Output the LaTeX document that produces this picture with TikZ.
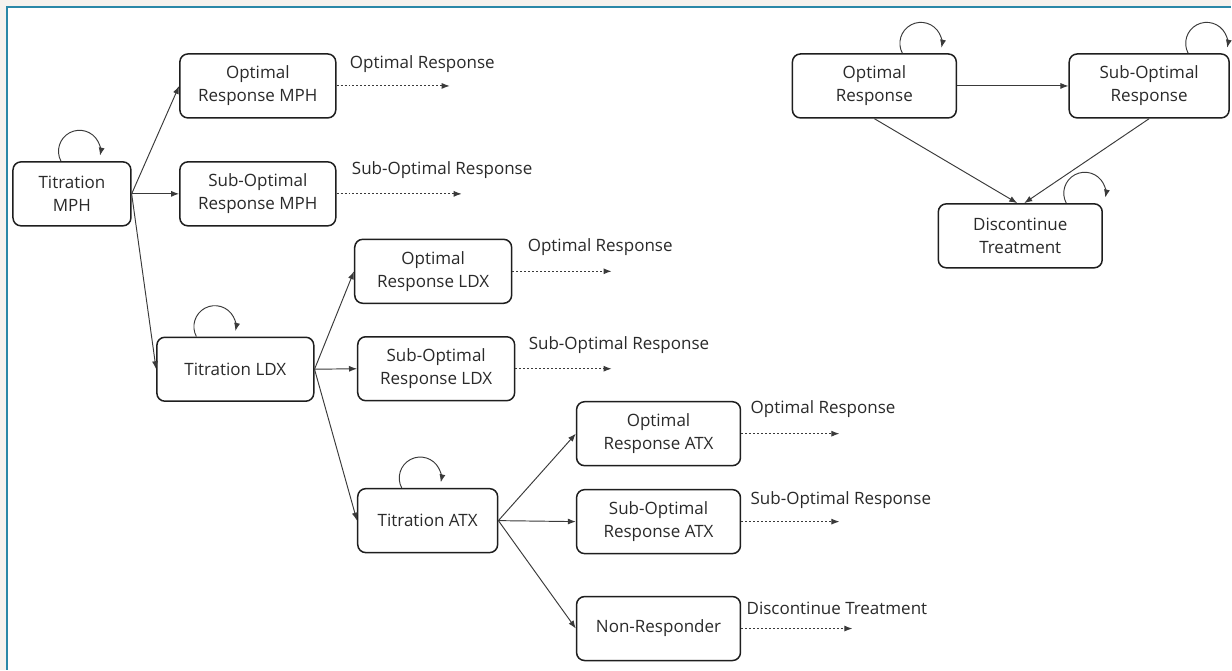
\documentclass[tikz,border=0pt]{standalone}
\usepackage{fontspec}
\setmainfont{Open Sans}
\usetikzlibrary{arrows.meta,calc}
\definecolor{framecol}{HTML}{2A88A8}
\definecolor{margincol}{HTML}{F5F2EE}
\definecolor{ink}{HTML}{1E1E1E}
\definecolor{textcol}{HTML}{2A2A2A}
\definecolor{wire}{HTML}{3A3A3A}

% a self-transition drawn as an arc sitting on top of a state
\newcommand\selfloop[2]{%
  \draw[link] ($(#1.north)+(#2,0)$) arc[start angle=152, end angle=372, radius=21];}

\begin{document}
\begin{tikzpicture}[x=1pt, y=-1pt,
  state/.style={draw=ink, line width=1.5pt, rounded corners=8pt, fill=white,
    align=center, inner sep=0pt, minimum height=64pt, text=textcol,
    font=\fontsize{17}{23}\selectfont},
  link/.style={draw=wire, line width=0.95pt, -{Latex[length=8pt,width=6pt]}},
  outcome/.style={draw=wire, line width=0.95pt, dash pattern=on 2pt off 2pt,
    -{Latex[length=8pt,width=6pt]}},
  outlabel/.style={anchor=west, inner sep=0pt, text=textcol,
    font=\fontsize{17}{20}\selectfont},
]
% page, margin and frame
\fill[margincol] (0,0) rectangle (1232,670);
\fill[white] (6,6) rectangle (1232,670);
\draw[framecol, line width=1.8pt] (7,670) -- (7,7) -- (1232,7);

% treatment tree
\node[state, minimum width=118pt] (tmph) at (72,194) {Titration\\MPH};
\node[state, minimum width=156pt] (omph) at (258,86) {Optimal\\Response MPH};
\node[state, minimum width=156pt] (smph) at (258,194) {Sub-Optimal\\Response MPH};
\node[state, minimum width=157pt] (tldx) at (235.5,369.5) {Titration LDX};
\node[state, minimum width=157pt] (oldx) at (433.5,271.5) {Optimal\\Response LDX};
\node[state, minimum width=157pt] (sldx) at (436.5,369) {Sub-Optimal\\Response LDX};
\node[state, minimum width=140pt] (tatx) at (428,521) {Titration ATX};
\node[state, minimum width=164pt] (oatx) at (659,434) {Optimal\\Response ATX};
\node[state, minimum width=164pt] (satx) at (659,522) {Sub-Optimal\\Response ATX};
\node[state, minimum width=164pt] (natx) at (659,629) {Non-Responder};

% response model
\node[state, minimum width=164pt] (ropt) at (875,86) {Optimal\\Response};
\node[state, minimum width=160pt] (rsub) at (1150,86) {Sub-Optimal\\Response};
\node[state, minimum width=164pt] (rdis) at (1021,236) {Discontinue\\Treatment};

% branches
\draw[link] (tmph.east) -- (omph.west);
\draw[link] (tmph.east) -- (smph.west);
\draw[link] (tmph.east) -- (tldx.west);
\draw[link] (tldx.east) -- (oldx.west);
\draw[link] (tldx.east) -- (sldx.west);
\draw[link] (tldx.east) -- (tatx.west);
\draw[link] (tatx.east) -- (oatx.west);
\draw[link] (tatx.east) -- (satx.west);
\draw[link] (tatx.east) -- (natx.west);

\draw[link] (ropt.east) -- (rsub.west);
\draw[link] (ropt.south) -- ($(rdis.north)+(-3,0)$);
\draw[link] (rsub.south) -- ($(rdis.north)+(4,0)$);

% self-transitions
\selfloop{tmph}{-11}
\selfloop{tldx}{-39}
\selfloop{tatx}{-26}
\selfloop{ropt}{28}
\selfloop{rsub}{39}
\selfloop{rdis}{46}

% hand-off into the response model
\coordinate (x1) at (450,86);
\coordinate (x2) at (462,194);
\coordinate (x3) at (612,271.5);
\coordinate (x4) at (612,369);
\coordinate (x5) at (840,434);
\coordinate (x6) at (840,522);
\coordinate (x7) at (853,629);
\draw[outcome] (omph.east) -- (x1);
\draw[outcome] (smph.east) -- (x2);
\draw[outcome] (oldx.east) -- (x3);
\draw[outcome] (sldx.east) -- (x4);
\draw[outcome] (oatx.east) -- (x5);
\draw[outcome] (satx.east) -- (x6);
\draw[outcome] (natx.east) -- (x7);

\node[outlabel] (l1) at (350,64) {Optimal Response};
\node[outlabel] (l2) at (352,170) {Sub-Optimal Response};
\node[outlabel] (l3) at (528,247) {Optimal Response};
\node[outlabel] (l4) at (529,345) {Sub-Optimal Response};
\node[outlabel] (l5) at (751,409) {Optimal Response};
\node[outlabel] (l6) at (751,500) {Sub-Optimal Response};
\node[outlabel] (l7) at (747,609) {Discontinue Treatment};
\end{tikzpicture}
\end{document}
